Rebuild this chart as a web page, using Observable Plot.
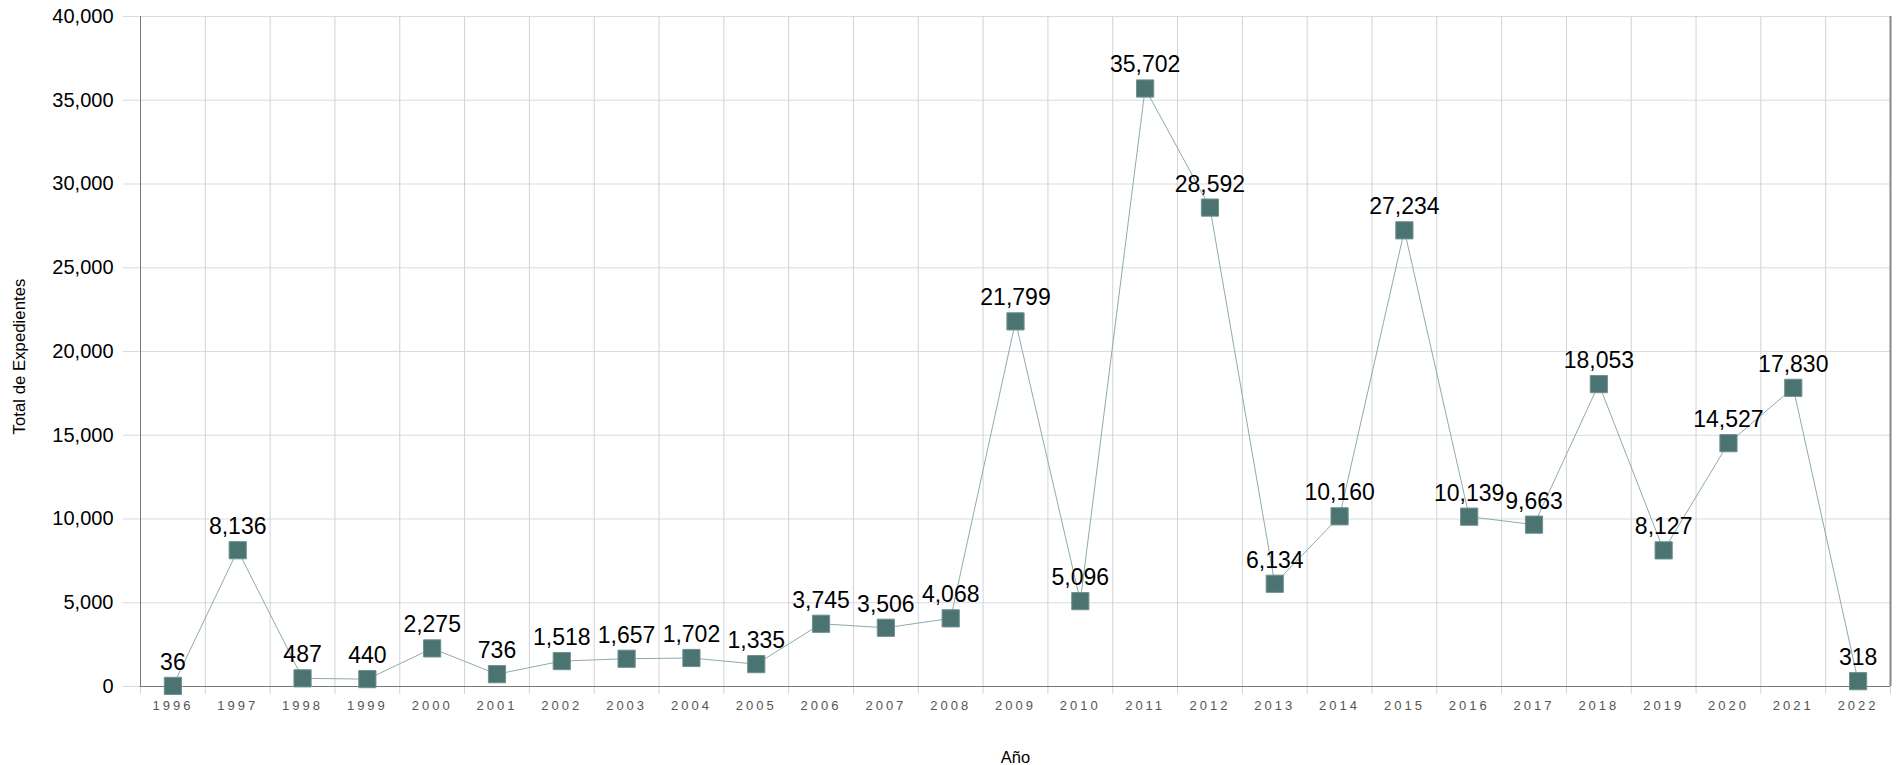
<!DOCTYPE html>
<html>
<head>
<meta charset="utf-8">
<script src="https://cdn.jsdelivr.net/npm/d3@7"></script>
<script src="https://cdn.jsdelivr.net/npm/@observablehq/plot@0.6"></script>
<style>
  html, body { margin: 0; padding: 0; background: #fff; }
  #chart svg { display: block; font-family: "Liberation Sans", Arial, sans-serif; }
  [aria-label="x-axis tick label"] text { letter-spacing: 3px; }
</style>
</head>
<body>
<div id="chart"></div>
<script>
const years = [1996,1997,1998,1999,2000,2001,2002,2003,2004,2005,2006,2007,2008,2009,2010,2011,2012,2013,2014,2015,2016,2017,2018,2019,2020,2021,2022];
const totals = [36,8136,487,440,2275,736,1518,1657,1702,1335,3745,3506,4068,21799,5096,35702,28592,6134,10160,27234,10139,9663,18053,8127,14527,17830,318];
const yTicks = [0,5000,10000,15000,20000,25000,30000,35000,40000];
const yTitle = "Total de Expedientes";
const xTitle = "Año";

const data = years.map((y, i) => ({year: y, value: totals[i]}));
const bounds = [years[0] - 0.5, ...years.map(y => y + 0.5)];
const fmt = d3.format(",");

const chart = Plot.plot({
  width: 1896,
  height: 765,
  marginLeft: 140,
  marginRight: 6,
  marginTop: 16,
  marginBottom: 79,
  style: {fontFamily: '"Liberation Sans", Arial, sans-serif', background: "#fff"},
  x: {type: "linear", domain: [bounds[0], bounds[bounds.length - 1]]},
  y: {domain: [0, 40000]},
  marks: [
    Plot.axisY(yTicks, {tickSize: 17, tickPadding: 10, stroke: "#d9d9e8", fill: "#000", fontSize: 20, tickFormat: fmt, label: null}),
    Plot.gridY(yTicks, {stroke: "#d9d9e8", strokeOpacity: 1}),
    Plot.gridX(bounds, {stroke: "#d2d2d8", strokeOpacity: 1}),
    Plot.axisX(bounds, {tickSize: 8, stroke: "#d2d2d8", text: null, label: null}),
    Plot.axisX(years, {tickSize: 0, tickPadding: 14, tickFormat: d => String(d), fill: "#555", fontSize: 13, label: null}),
    Plot.ruleY([0], {stroke: "#777", strokeWidth: 1}),
    Plot.ruleX([bounds[0]], {stroke: "#777", strokeWidth: 1}),
    Plot.ruleX([bounds[bounds.length - 1]], {stroke: "#888", strokeWidth: 2}),
    Plot.line(data, {x: "year", y: "value", stroke: "#8fabaa", strokeWidth: 1}),
    Plot.dot(data, {x: "year", y: "value", symbol: "square", r: 9.7, fill: "#4a7371", stroke: "#6f918f", strokeWidth: 1}),
    Plot.text(data, {x: "year", y: "value", text: d => fmt(d.value), dy: -16, lineAnchor: "bottom", fontSize: 23, fill: "#000"}),
    Plot.text([yTitle], {frameAnchor: "left", textAnchor: "middle", lineAnchor: "middle", dx: -121, dy: 5, rotate: -90, fontSize: 16.8, fill: "#000"}),
    Plot.text([xTitle], {frameAnchor: "bottom", textAnchor: "middle", lineAnchor: "bottom", dy: 76, fontSize: 16.5, fill: "#000"})
  ]
});
document.getElementById("chart").appendChild(chart);
</script>
</body>
</html>
